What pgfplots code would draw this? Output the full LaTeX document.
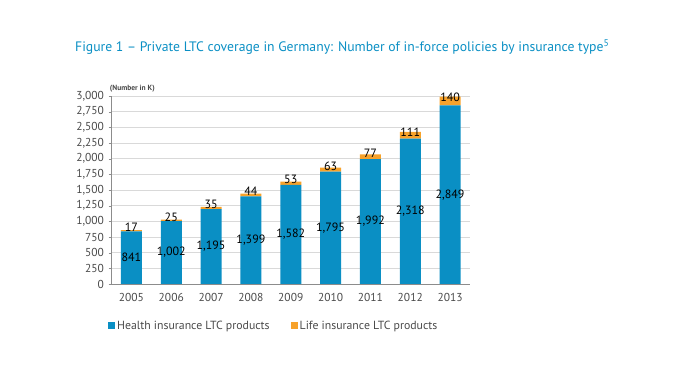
\documentclass[border=0pt]{standalone}
\usepackage{pgfplots}
\pgfplotsset{compat=1.18}
\usepackage{fontspec}
\setmainfont{PT Sans}
\definecolor{hblue}{HTML}{0A8FC4}
\definecolor{lorange}{HTML}{F7A22B}
\definecolor{tgray}{HTML}{4A4A4A}
\begin{document}
\begin{tikzpicture}
\useasboundingbox (0,0) rectangle (674pt,380pt);
\node[anchor=west, text=hblue, font=\fontsize{13.7}{15}\selectfont, inner sep=0pt] at (75pt,333pt) {Figure 1 -- Private LTC coverage in Germany: Number of in-force policies by insurance type\textsuperscript{5}};
\begin{axis}[
  at={(111.5pt,96pt)}, anchor=south west,
  scale only axis, width=358.5pt, height=188pt,
  ybar stacked, bar width=21pt,
  xmin=-0.5, xmax=8.5, ymin=0, ymax=3000,
  xtick={0,...,8},
  xticklabels={2005,2006,2007,2008,2009,2010,2011,2012,2013},
  ytick={0,250,...,3000},
  /pgf/number format/assume math mode=true,
  /pgf/number format/.cd, 1000 sep={,}, /pgfplots/.cd,
  axis lines*=left,
  axis line style={draw=black!45, line width=0.6pt},
  ymajorgrids, grid style={draw=black!15, line width=0.6pt},
  tick align=outside,
  x tick style={draw=none},
  y tick style={draw=black!45},
  major tick length=3pt,
  extra x ticks={-0.5,0.5,...,8.5},
  extra x tick labels={},
  extra x tick style={grid=none, tick style={draw=black!45, line width=0.6pt}, major tick length=4pt},
  tick label style={text=tgray, font=\fontsize{11.5}{12}\selectfont},
  xticklabel style={yshift=-3pt},
  yticklabel style={xshift=-1pt},
  legend style={at={(axis description cs:-0.01,-0.223)}, anchor=west, draw=none, fill=none,
    font=\fontsize{11.8}{12}\selectfont\color{tgray}, legend columns=2,
    /tikz/every even column/.append style={column sep=19pt}, inner sep=0pt},
  legend image code/.code={\fill[#1] (0pt,-3.5pt) rectangle (7pt,3.5pt);},
  legend cell align=left,
  clip=false,
]
\addplot[fill=hblue, draw=none] coordinates {(0,841) (1,1002) (2,1195) (3,1399) (4,1582) (5,1795) (6,1992) (7,2318) (8,2849)};
\addplot[fill=lorange, draw=none,
  point meta=rawy,
  nodes near coords,
  every node near coord/.append style={anchor=south, inner sep=0pt, yshift=-1pt, font=\fontsize{12}{12}\selectfont, text=black},
] coordinates {(0,17) (1,25) (2,35) (3,44) (4,53) (5,63) (6,77) (7,111) (8,140)};
\legend{Health insurance LTC products, Life insurance LTC products}
\node[anchor=south west, inner sep=0pt, font=\fontsize{7.5}{8}\selectfont\bfseries, text=tgray] at (axis description cs:-0.005,1.02) {(Number in K)};
\end{axis}
\begin{axis}[
  at={(111.5pt,96pt)}, anchor=south west,
  scale only axis, width=358.5pt, height=188pt,
  xmin=-0.5, xmax=8.5, ymin=0, ymax=3000,
  hide axis, clip=false,
]
\addplot[draw=none, mark=none,
  nodes near coords={\pgfplotspointmeta},
  point meta=explicit symbolic,
  every node near coord/.append style={anchor=center, inner sep=0pt, font=\fontsize{12}{12}\selectfont, text=black},
] table[meta=lab] {
x y lab
0 420.5 841
1 501 {1,002}
2 597.5 {1,195}
3 699.5 {1,399}
4 791 {1,582}
5 897.5 {1,795}
6 996 {1,992}
7 1159 {2,318}
8 1424.5 {2,849}
};
\end{axis}
\end{tikzpicture}
\end{document}
